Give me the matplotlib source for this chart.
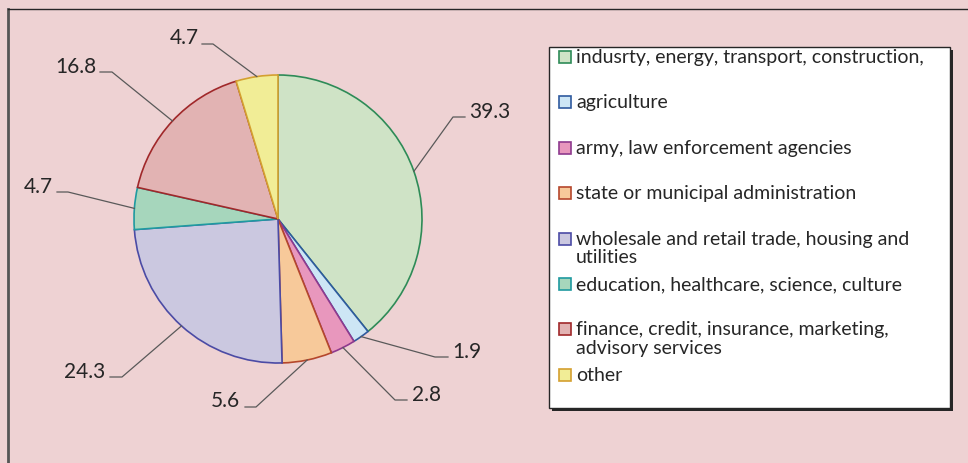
import matplotlib
matplotlib.use("Agg")
import matplotlib.pyplot as plt
import numpy as np
from matplotlib.patches import Rectangle

plt.rcParams['font.family'] = ['Lato', 'DejaVu Sans']

# data
categories = [
    "indusrty, energy, transport, construction,",
    "agriculture",
    "army, law enforcement agencies",
    "state or municipal administration",
    "wholesale and retail trade, housing and\nutilities",
    "education, healthcare, science, culture",
    "finance, credit, insurance, marketing,\nadvisory services",
    "other",
]
values = [39.3, 1.9, 2.8, 5.6, 24.3, 4.7, 16.8, 4.7]
labels = ["39.3", "1.9", "2.8", "5.6", "24.3", "4.7", "16.8", "4.7"]
fill_colors = ["#cfe3c6", "#cde6f5", "#e897bd", "#f7c99a",
               "#cbc8e0", "#a6d6bc", "#e2b3b3", "#f1ed96"]
edge_colors = ["#2e8b57", "#2f5a9e", "#8e3a8e", "#b5472c",
               "#4b4ba5", "#1f9aa0", "#a0282a", "#d4a030"]

# label layout (pixels): elbow of the leader line, end of horizontal, text anchor
elbows = [(453, 118), (435, 358), (395, 401), (256, 408),
          (122, 378), (68, 193), (112, 73), (213, 45)]
line_ends = [(465, 118), (448, 358), (407, 401), (245, 408),
             (110, 378), (57, 193), (100, 73), (202, 45)]
text_pos = [(469, 112, 'left'), (452, 352, 'left'), (412, 395, 'left'),
            (240, 401, 'right'), (105, 372, 'right'), (53, 187, 'right'),
            (96, 67, 'right'), (199, 38, 'right')]

bg = "#eed2d3"
W, H = 968, 464
fig = plt.figure(figsize=(W / 100, H / 100), dpi=100, facecolor=bg)
ax = fig.add_axes([0, 0, 1, 1])
ax.set_facecolor(bg)

center = (278, 220)
radius = 144
# y axis is inverted below, so counterclock in data = clockwise on screen
wedges, _ = ax.pie(values, colors=fill_colors, startangle=-90, counterclock=True,
                   center=center, radius=radius,
                   wedgeprops=dict(linewidth=1.2))
for w, ec in zip(wedges, edge_colors):
    w.set_edgecolor(ec)

ax.set_xlim(0, W)
ax.set_ylim(H, 0)
ax.set_aspect('equal')
ax.axis('off')

# leader lines + value labels
for w, lab, (ex, ey), (lx, ly), (tx, ty, ha) in zip(wedges, labels, elbows, line_ends, text_pos):
    ang = np.deg2rad((w.theta1 + w.theta2) / 2)
    px = center[0] + radius * np.cos(ang)
    py = center[1] + radius * np.sin(ang)
    ax.plot([px, ex, lx], [py, ey, ly], color="#595959", lw=0.9)
    ax.text(tx, ty, lab, ha=ha, va='center', fontsize=15, color="#262626")

# outer frame
ax.plot([8, 8], [H, 10], color="#555555", lw=2)
ax.plot([8, W], [10, 10], color="#262626", lw=1)

# legend box with shadow
lx0, ly0, lx1, ly1 = 549, 48, 950, 409
ax.add_patch(Rectangle((lx0 + 3, ly0 + 3), lx1 - lx0, ly1 - ly0,
                       facecolor="#262626", edgecolor="none", zorder=3))
ax.add_patch(Rectangle((lx0, ly0), lx1 - lx0, ly1 - ly0,
                       facecolor="white", edgecolor="#262626", lw=1, zorder=4))
slot = 45.4
for i, (cat, fc, ec) in enumerate(zip(categories, fill_colors, edge_colors)):
    yc = 58 + i * slot
    ax.add_patch(Rectangle((559, yc - 6), 12, 12, facecolor=fc, edgecolor=ec,
                           lw=1.2, zorder=5))
    ax.text(576, yc - 9, cat, ha='left', va='top', fontsize=14,
            color="#262626", linespacing=1.08, zorder=5)

fig.savefig("out.png", dpi=100, facecolor=bg)
